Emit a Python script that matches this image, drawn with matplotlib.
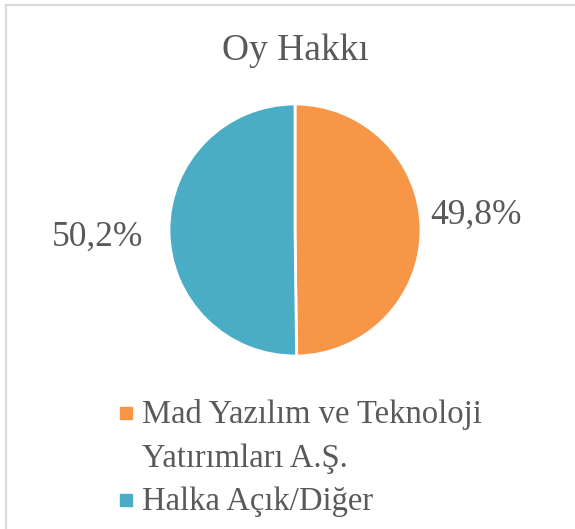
import matplotlib.pyplot as plt
from matplotlib.lines import Line2D
from matplotlib.patches import Rectangle

TITLE = 'Oy Hakkı'
CATEGORIES = ['Mad Yazılım ve Teknoloji\nYatırımları A.Ş.', 'Halka Açık/Diğer']
VALUES = [49.8, 50.2]
COLORS = ['#F79646', '#4BACC6']
TEXT_COLOR = '#595959'

plt.rcParams['font.family'] = ['Liberation Serif', 'DejaVu Serif']

W, H = 575, 529
fig = plt.figure(figsize=(W / 100, H / 100), dpi=100)

# chart area frame (only top and left visible in the reference)
fig.add_artist(Line2D([6 / W, 1], [1 - 4.5 / H, 1 - 4.5 / H], color='#d9d9d9', lw=1.6))
fig.add_artist(Line2D([6 / W, 6 / W], [0, 1 - 4.5 / H], color='#d9d9d9', lw=1.6))

# pie axes: center (295, 230), radius 126 px
cx, cy, r = 295, 230, 126
ax = fig.add_axes([(cx - r) / W, 1 - (cy + r) / H, 2 * r / W, 2 * r / H])
labels = [('%.1f' % v).replace('.', ',') + '%' for v in VALUES]
wedges, texts = ax.pie(VALUES, colors=COLORS, startangle=90, counterclock=False,
                       labels=labels, labeldistance=1.4,
                       wedgeprops=dict(edgecolor='white', linewidth=2),
                       textprops=dict(fontsize=25.5, color=TEXT_COLOR))
ax.set_xlim(-1, 1)
ax.set_ylim(-1, 1)
ax.set_aspect('equal')
# move the labels to where the reference has them
texts[0].set_position((1.44, 0.12))
texts[0].set_ha('center')
texts[1].set_position((-1.57, -0.06))
texts[1].set_ha('center')
for t in texts:
    t.set_va('center')

fig.text(cx / W, 1 - 51 / H, TITLE, ha='center', va='center', fontsize=27, color=TEXT_COLOR)

# legend, drawn by hand: square marker next to the first line of each entry
line_step = 43.5
baseline = 423
for name, color in zip(CATEGORIES, COLORS):
    fig.add_artist(Rectangle((120 / W, 1 - (baseline - 4) / H), 12 / W, 12 / H,
                             color=color, transform=fig.transFigure))
    for line in name.split('\n'):
        fig.text(142 / W, 1 - baseline / H, line, ha='left', va='baseline',
                 fontsize=23.5, color=TEXT_COLOR)
        baseline += line_step

fig.savefig('out.png', dpi=100, facecolor='white')
